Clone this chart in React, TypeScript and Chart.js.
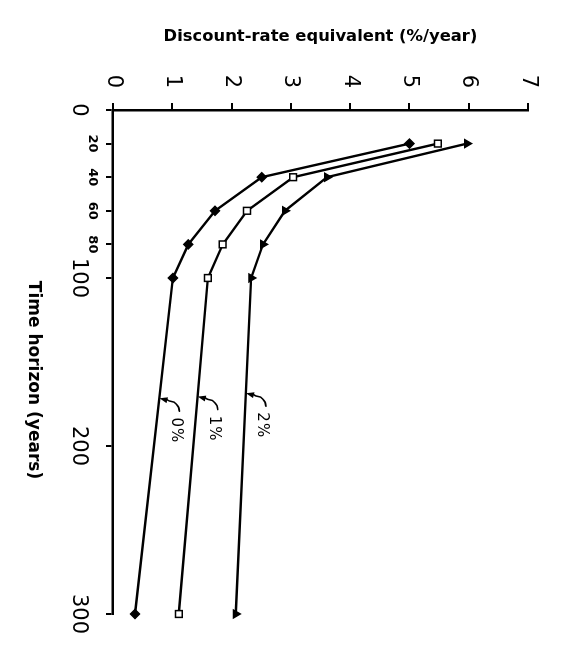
import React, { useEffect, useRef } from 'react';
import { Chart, registerables } from 'chart.js';

Chart.register(...registerables);

// ---- data ----
const TIME_HORIZONS = [20, 40, 60, 80, 100, 300];
const RATE_0 = [5.0, 2.51, 1.72, 1.27, 1.01, 0.37];
const RATE_1 = [5.48, 3.04, 2.26, 1.85, 1.6, 1.11];
const RATE_2 = [5.97, 3.61, 2.9, 2.53, 2.33, 2.07];
const SERIES_LABELS = ['0%', '1%', '2%'];
const ARROW_TIMES = [171, 170, 168];
const TIME_TICKS = [0, 20, 40, 60, 80, 100, 200, 300];
const SMALL_TIME_TICKS = [20, 40, 60, 80];
const X_TITLE = 'Time horizon (years)';
const Y_TITLE = 'Discount-rate equivalent (%/year)';

const SERIES = [RATE_0, RATE_1, RATE_2];
const W = 651;
const H = 575;
const FAMILY = '"DejaVu Sans", "Liberation Sans", sans-serif';

function interp(xs: number[], ys: number[], t: number): number {
  for (let i = 0; i < xs.length - 1; i++) {
    if (t >= xs[i] && t <= xs[i + 1]) {
      const f = (t - xs[i]) / (xs[i + 1] - xs[i]);
      return ys[i] + f * (ys[i + 1] - ys[i]);
    }
  }
  return ys[ys.length - 1];
}

const xTitlePlugin = {
  id: 'xTitle',
  afterDraw(chart: any) {
    const { ctx, chartArea } = chart;
    ctx.save();
    ctx.fillStyle = '#000';
    ctx.font = `bold 17px ${FAMILY}`;
    ctx.textAlign = 'center';
    ctx.textBaseline = 'middle';
    ctx.fillText(X_TITLE, chartArea.left + 270, chartArea.bottom + 80);
    ctx.restore();
  },
};

const lineLabelPlugin = {
  id: 'lineLabels',
  afterDatasetsDraw(chart: any) {
    const { ctx } = chart;
    const xs = chart.scales.x;
    const ys = chart.scales.y;
    ctx.save();
    ctx.strokeStyle = '#000';
    ctx.fillStyle = '#000';
    ctx.lineWidth = 1.6;
    ctx.lineCap = 'round';
    SERIES_LABELS.forEach((label, i) => {
      const t = ARROW_TIMES[i];
      const r = interp(TIME_HORIZONS, SERIES[i], t);
      const px = xs.getPixelForValue(t);
      const py = ys.getPixelForValue(r);
      // arrowhead (pointing at the line)
      const dx = 2;
      const dy = -8;
      const len = Math.hypot(dx, dy);
      const ux = dx / len;
      const uy = dy / len;
      ctx.beginPath();
      ctx.moveTo(px + 1, py);
      ctx.lineTo(px + 1 + ux * 8 - uy * 3, py + uy * 8 + ux * 3);
      ctx.lineTo(px + 1 + ux * 8 + uy * 3, py + uy * 8 - ux * 3);
      ctx.closePath();
      ctx.fill();
      // squiggly tail
      ctx.beginPath();
      ctx.moveTo(px + 2, py - 7);
      ctx.bezierCurveTo(px + 6, py - 12, px + 3, py - 14, px + 6, py - 16);
      ctx.bezierCurveTo(px + 8, py - 18, px + 9, py - 20, px + 14, py - 20);
      ctx.stroke();
      // label
      ctx.font = `15px ${FAMILY}`;
      (ctx as any).letterSpacing = '1px';
      ctx.textAlign = 'center';
      ctx.textBaseline = 'middle';
      ctx.fillText(label, px + 33, py - 16);
      (ctx as any).letterSpacing = '0px';
    });
    ctx.restore();
  },
};

export default function App() {
  const canvasRef = useRef<HTMLCanvasElement | null>(null);

  useEffect(() => {
    const canvas = canvasRef.current;
    if (!canvas) return;
    const mk = (vals: number[]) => TIME_HORIZONS.map((t, i) => ({ x: t, y: vals[i] }));
    const common = {
      borderColor: '#000',
      borderWidth: 2.4,
      tension: 0,
      fill: false,
      clip: false,
      pointBorderColor: '#000',
      pointBorderWidth: 1.5,
    };
    const chart = new Chart(canvas, {
      type: 'line',
      data: {
        datasets: [
          {
            ...common,
            label: SERIES_LABELS[0],
            data: mk(RATE_0),
            pointStyle: 'rectRot',
            pointRadius: 4.5,
            pointBackgroundColor: '#000',
          },
          {
            ...common,
            label: SERIES_LABELS[1],
            data: mk(RATE_1),
            pointStyle: 'rect',
            pointRadius: 4.8,
            pointBackgroundColor: '#fff',
          },
          {
            ...common,
            label: SERIES_LABELS[2],
            data: mk(RATE_2),
            pointStyle: 'triangle',
            pointRadius: 4.5,
            pointBackgroundColor: '#000',
          },
        ],
      } as any,
      options: {
        animation: false,
        responsive: false,
        layout: { padding: { top: 47, right: 37, bottom: 0, left: 0 } },
        plugins: { legend: { display: false }, tooltip: { enabled: false } },
        scales: {
          x: {
            type: 'linear',
            position: 'bottom',
            min: 0,
            max: 300,
            afterBuildTicks: (s: any) => {
              s.ticks = TIME_TICKS.map((v) => ({ value: v }));
            },
            afterFit: (s: any) => {
              s.height = 113;
            },
            grid: {
              display: true,
              drawOnChartArea: false,
              drawTicks: true,
              tickLength: 7,
              color: '#000',
              lineWidth: 2,
            },
            border: { display: true, color: '#000', width: 2.5 },
            ticks: {
              color: '#000',
              padding: 3,
              maxRotation: 0,
              minRotation: 0,
              autoSkip: false,
              font: (c: any) => {
                const v = c && c.tick ? c.tick.value : 0;
                return SMALL_TIME_TICKS.includes(v)
                  ? { family: FAMILY, size: 13, weight: 'bold', lineHeight: 21 / 13 }
                  : { family: FAMILY, size: 21, weight: 'normal', lineHeight: 49 / 21 };
              },
            },
          },
          y: {
            type: 'linear',
            min: 0,
            max: 7,
            afterFit: (s: any) => {
              s.width = 110;
            },
            grid: {
              display: true,
              drawOnChartArea: false,
              drawTicks: true,
              tickLength: 7,
              color: '#000',
              lineWidth: 2,
            },
            border: { display: true, color: '#000', width: 2.5 },
            ticks: {
              stepSize: 1,
              color: '#000',
              padding: 15,
              font: { family: FAMILY, size: 21 },
            },
            title: {
              display: true,
              text: Y_TITLE,
              color: '#000',
              font: { family: FAMILY, size: 16.4, weight: 'bold', lineHeight: 1.2 },
              padding: { top: 27, bottom: 0 },
            },
          },
        },
      } as any,
      plugins: [xTitlePlugin, lineLabelPlugin],
    });
    return () => chart.destroy();
  }, []);

  return (
    <div
      style={{
        position: 'absolute',
        left: 0,
        top: 0,
        width: W,
        height: H,
        transformOrigin: '0 0',
        transform: `translate(${H}px, 0px) rotate(90deg)`,
        background: '#fff',
      }}
    >
      <canvas ref={canvasRef} width={W} height={H} style={{ display: 'block' }} />
    </div>
  );
}
